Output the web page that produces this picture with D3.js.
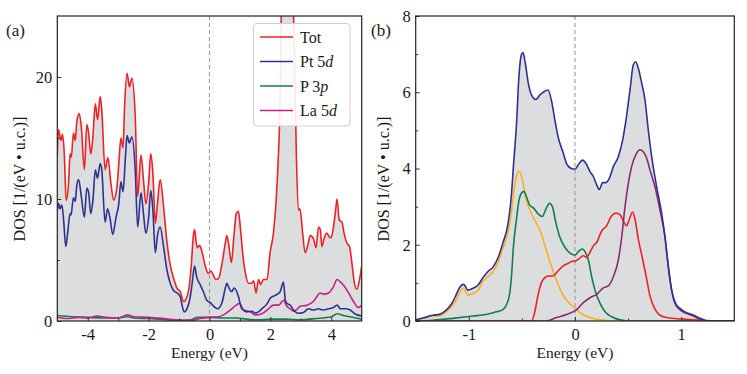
<!DOCTYPE html>
<html>
<head>
<meta charset="utf-8">
<script src="https://d3js.org/d3.v7.min.js"></script>
<style>
  body { margin: 0; background: #fff; }
</style>
</head>
<body>
<div id="chart"></div>
<script>
// ---- panel (a) data: [energy (eV), DOS]
const totA = [[-5.0,13.6],[-4.96,15.7],[-4.88,14.8],[-4.83,15.3],[-4.77,13.7],[-4.71,9.9],[-4.63,11.3],[-4.58,13.7],[-4.54,13.4],[-4.47,15.4],[-4.41,14.8],[-4.36,16.3],[-4.28,17.0],[-4.21,15.9],[-4.11,12.4],[-4.03,16.1],[-3.97,15.4],[-3.9,13.7],[-3.84,14.8],[-3.75,17.8],[-3.68,16.5],[-3.59,18.4],[-3.54,17.3],[-3.43,12.4],[-3.34,13.4],[-3.24,11.3],[-3.15,9.9],[-3.04,11.0],[-2.98,12.9],[-2.91,15.0],[-2.84,14.2],[-2.79,17.6],[-2.71,20.3],[-2.63,19.2],[-2.55,19.9],[-2.44,16.8],[-2.36,10.2],[-2.25,13.6],[-2.17,11.6],[-2.09,9.6],[-2.0,11.3],[-1.93,13.7],[-1.86,12.1],[-1.78,8.0],[-1.71,9.6],[-1.62,11.6],[-1.51,9.4],[-1.4,6.5],[-1.29,4.6],[-1.18,3.5],[-1.07,2.7],[-0.96,2.4],[-0.85,1.6],[-0.77,1.8],[-0.68,2.6],[-0.6,4.5],[-0.53,7.0],[-0.49,7.5],[-0.44,6.5],[-0.4,6.0],[-0.33,6.2],[-0.26,5.8],[-0.14,4.5],[-0.04,3.9],[0.05,4.1],[0.12,3.8],[0.2,3.4],[0.3,3.5],[0.41,4.7],[0.52,6.4],[0.57,7.0],[0.64,6.1],[0.72,4.8],[0.8,6.9],[0.88,8.8],[0.95,9.0],[1.0,8.0],[1.1,5.3],[1.18,3.9],[1.28,3.1],[1.39,3.1],[1.45,3.3],[1.53,2.3],[1.61,3.4],[1.68,3.0],[1.77,3.4],[1.89,3.4],[1.99,5.6],[2.1,7.2],[2.19,9.9],[2.27,14.0],[2.32,18.1],[2.36,26],[2.45,32],[2.6,34],[2.72,30],[2.77,24],[2.8,20.9],[2.85,14.0],[2.92,9.1],[2.97,9.2],[3.06,7.2],[3.14,5.6],[3.22,6.1],[3.31,7.0],[3.42,6.7],[3.5,6.0],[3.58,7.7],[3.64,7.5],[3.69,6.1],[3.77,6.8],[3.85,7.2],[3.97,6.8],[4.04,7.2],[4.13,8.8],[4.19,10.0],[4.26,8.3],[4.35,8.1],[4.42,7.2],[4.51,6.4],[4.6,6.1],[4.68,4.7],[4.76,3.1],[4.84,2.6],[4.93,3.4],[5.0,4.5]];

const pt5dA = [[-5.0,9.0],[-4.96,9.65],[-4.91,9.2],[-4.85,9.5],[-4.8,8.5],[-4.72,6.1],[-4.66,7.2],[-4.58,8.8],[-4.55,8.7],[-4.47,10.1],[-4.41,9.8],[-4.36,11.1],[-4.3,11.6],[-4.21,10.2],[-4.11,8.5],[-4.03,10.9],[-3.97,10.5],[-3.9,8.8],[-3.83,9.9],[-3.75,12.4],[-3.68,11.7],[-3.59,12.9],[-3.54,12.4],[-3.43,8.1],[-3.35,9.2],[-3.26,8.3],[-3.18,7.1],[-3.07,8.5],[-2.98,9.6],[-2.91,11.4],[-2.84,10.6],[-2.76,13.5],[-2.71,15.2],[-2.63,14.6],[-2.55,15.1],[-2.44,12.4],[-2.36,7.7],[-2.25,10.5],[-2.17,8.8],[-2.09,7.2],[-2.0,8.5],[-1.93,10.7],[-1.86,9.1],[-1.78,5.6],[-1.71,7.0],[-1.62,7.7],[-1.51,6.1],[-1.4,4.2],[-1.29,3.1],[-1.18,2.5],[-1.07,2.3],[-0.96,2.0],[-0.91,1.4],[-0.83,0.75],[-0.74,1.0],[-0.63,2.0],[-0.56,3.3],[-0.49,4.5],[-0.42,3.6],[-0.31,3.0],[-0.2,2.4],[-0.09,1.7],[0.03,1.5],[0.14,1.2],[0.26,1.0],[0.41,1.5],[0.52,2.7],[0.57,3.1],[0.64,2.7],[0.73,2.4],[0.81,2.7],[0.88,2.5],[0.95,2.0],[1.06,1.0],[1.23,0.75],[1.39,0.8],[1.5,0.65],[1.61,0.75],[1.72,1.0],[1.89,1.4],[1.99,1.85],[2.16,2.1],[2.32,2.4],[2.43,3.2],[2.49,1.7],[2.54,1.45],[2.65,1.3],[2.76,0.9],[2.92,0.63],[3.09,0.7],[3.25,1.0],[3.41,0.9],[3.58,1.0],[3.74,0.9],[3.91,1.0],[4.07,1.1],[4.19,1.3],[4.3,1.0],[4.46,1.0],[4.62,0.9],[4.79,0.57],[5.0,0.4]];

const p3pA = [[-5.0,0.45],[-4.5,0.35],[-4.0,0.3],[-3.5,0.25],[-3.0,0.25],[-2.7,0.35],[-2.5,0.25],[-2.0,0.2],[-1.5,0.12],[-1.0,0.05],[-0.6,0.1],[-0.4,0.3],[0.0,0.3],[0.4,0.25],[0.9,0.25],[1.2,0.15],[1.6,0.1],[2.0,0.15],[2.5,0.15],[3.0,0.1],[3.5,0.2],[4.0,0.35],[4.2,0.6],[4.4,0.45],[4.7,0.3],[5.0,0.15]];

const la5dA = [[-5.0,0.3],[-4.7,0.2],[-4.3,0.3],[-4.0,0.25],[-3.7,0.4],[-3.4,0.3],[-3.0,0.25],[-2.7,0.5],[-2.5,0.35],[-2.0,0.3],[-1.5,0.2],[-1.0,0.08],[-0.6,0.05],[-0.3,0.2],[0.0,0.3],[0.3,0.35],[0.46,0.5],[0.68,0.9],[0.88,1.3],[0.99,1.45],[1.12,0.9],[1.34,0.75],[1.5,0.5],[1.72,0.6],[1.94,1.0],[2.1,1.3],[2.27,1.3],[2.43,1.7],[2.54,1.2],[2.65,1.0],[2.76,0.8],[2.87,0.95],[2.98,1.2],[3.2,1.3],[3.41,1.6],[3.53,2.0],[3.63,2.3],[3.74,2.2],[3.91,2.3],[4.07,2.8],[4.19,3.4],[4.3,3.2],[4.41,2.9],[4.57,2.3],[4.73,1.6],[4.89,1.1],[5.0,1.3]];

// ---- panel (b) data
const totB = [[-1.5,0.03],[-1.43,0.08],[-1.34,0.15],[-1.27,0.18],[-1.21,0.29],[-1.16,0.46],[-1.12,0.68],[-1.09,0.86],[-1.05,0.96],[-1.03,0.9],[-1.01,0.81],[-0.96,0.86],[-0.91,0.95],[-0.87,1.12],[-0.82,1.3],[-0.77,1.42],[-0.72,1.69],[-0.68,2.04],[-0.63,2.56],[-0.6,3.26],[-0.58,4.05],[-0.55,5.2],[-0.53,6.32],[-0.505,6.98],[-0.49,7.04],[-0.47,6.8],[-0.44,6.24],[-0.41,5.93],[-0.37,5.81],[-0.33,5.93],[-0.29,6.02],[-0.254,6.06],[-0.22,5.76],[-0.19,5.28],[-0.16,4.84],[-0.11,4.4],[-0.075,4.1],[-0.035,4.0],[0.0,3.98],[0.031,4.1],[0.072,4.22],[0.104,4.13],[0.141,3.92],[0.173,3.79],[0.204,3.57],[0.229,3.45],[0.26,3.63],[0.29,3.63],[0.323,3.74],[0.361,4.05],[0.408,4.31],[0.449,4.75],[0.48,5.27],[0.518,6.06],[0.549,6.72],[0.571,6.8],[0.596,6.63],[0.628,6.24],[0.659,5.8],[0.69,5.01],[0.722,4.31],[0.769,3.52],[0.816,2.82],[0.847,2.21],[0.879,1.42],[0.91,0.81],[0.941,0.5],[0.989,0.33],[1.05,0.22],[1.114,0.16],[1.177,0.07],[1.24,0.01],[1.33,0],[1.5,0]];

const orangeB = [[-1.5,0.02],[-1.43,0.07],[-1.34,0.13],[-1.27,0.14],[-1.21,0.25],[-1.16,0.38],[-1.12,0.55],[-1.09,0.72],[-1.05,0.86],[-1.03,0.77],[-1.01,0.68],[-0.96,0.72],[-0.91,0.81],[-0.87,1.03],[-0.82,1.16],[-0.77,1.3],[-0.72,1.56],[-0.68,1.9],[-0.63,2.34],[-0.6,2.83],[-0.57,3.52],[-0.543,3.87],[-0.52,3.92],[-0.496,3.7],[-0.458,3.17],[-0.41,2.82],[-0.36,2.55],[-0.317,2.29],[-0.27,1.85],[-0.22,1.42],[-0.175,1.07],[-0.128,0.76],[-0.08,0.55],[-0.035,0.42],[0.013,0.3],[0.05,0.21],[0.14,0.09],[0.24,0.03],[0.35,0],[1.5,0]];

const greenB = [[-1.5,0],[-1.34,0.02],[-1.15,0.07],[-0.96,0.13],[-0.84,0.17],[-0.74,0.24],[-0.68,0.3],[-0.64,0.46],[-0.615,0.72],[-0.596,1.25],[-0.58,1.94],[-0.552,2.65],[-0.527,3.17],[-0.505,3.35],[-0.48,3.4],[-0.458,3.26],[-0.427,3.04],[-0.39,2.96],[-0.35,2.82],[-0.308,2.74],[-0.27,2.96],[-0.24,3.09],[-0.213,3.0],[-0.182,2.6],[-0.144,2.21],[-0.097,1.94],[-0.05,1.79],[0.0,1.73],[0.031,1.82],[0.069,1.89],[0.1,1.79],[0.126,1.6],[0.157,1.16],[0.188,0.81],[0.236,0.46],[0.283,0.24],[0.345,0.11],[0.424,0.03],[0.5,0],[1.5,0]];

const redB = [[-1.5,0],[-0.41,0],[-0.38,0.22],[-0.35,0.66],[-0.317,1.0],[-0.286,1.13],[-0.254,1.18],[-0.207,1.18],[-0.16,1.31],[-0.113,1.44],[-0.066,1.51],[-0.019,1.57],[0.0,1.57],[0.031,1.62],[0.078,1.71],[0.11,1.67],[0.141,1.8],[0.173,1.97],[0.204,2.06],[0.251,2.36],[0.298,2.5],[0.345,2.76],[0.386,2.83],[0.424,2.79],[0.455,2.62],[0.486,2.5],[0.512,2.67],[0.543,2.86],[0.565,2.67],[0.596,2.15],[0.637,1.62],[0.675,1.1],[0.706,0.66],[0.753,0.31],[0.8,0.15],[0.863,0.09],[0.957,0.06],[1.08,0.04],[1.24,0],[1.5,0]];

const purpleB = [[-1.5,0],[-0.27,0],[-0.175,0.09],[-0.08,0.17],[0.016,0.3],[0.078,0.48],[0.141,0.61],[0.204,0.7],[0.267,0.87],[0.314,0.92],[0.361,1.16],[0.408,1.6],[0.44,2.21],[0.471,3.0],[0.502,3.61],[0.533,4.05],[0.571,4.35],[0.612,4.49],[0.643,4.44],[0.675,4.27],[0.706,3.96],[0.753,3.52],[0.8,2.91],[0.847,2.21],[0.879,1.42],[0.91,0.81],[0.941,0.46],[0.989,0.29],[1.05,0.2],[1.114,0.13],[1.177,0.04],[1.24,0],[1.5,0]];

const legendLabels = [["Tot", ""], ["Pt 5", "d"], ["P 3", "p"], ["La 5", "d"]];

const C = { red: "#ec2227", navy: "#2e3192", green: "#137d4c", magenta: "#c6208a", orange: "#fbb01f", purple: "#8c2a6c", fill: "#dcdddf" };
const SERIF = "'Liberation Serif', 'Times New Roman', Times, serif";

const W = 747, H = 374;
const svg = d3.select("#chart").append("svg").attr("width", W).attr("height", H)
  .attr("font-family", SERIF);

function panel(opt) {
  const x = d3.scaleLinear().domain(opt.xd).range([opt.left, opt.right]);
  const y = d3.scaleLinear().domain(opt.yd).range([opt.bottom, opt.top]);
  const g = svg.append("g");
  const clipId = "clip-" + opt.name;
  svg.append("clipPath").attr("id", clipId).append("rect")
    .attr("x", opt.left).attr("y", opt.top)
    .attr("width", opt.right - opt.left).attr("height", opt.bottom - opt.top);
  const plot = g.append("g").attr("clip-path", `url(#${clipId})`);

  const area = d3.area().x(d => x(d[0])).y0(y(0)).y1(d => y(d[1])).curve(d3.curveMonotoneX);
  const line = d3.line().x(d => x(d[0])).y(d => y(d[1])).curve(d3.curveMonotoneX);

  plot.append("path").datum(opt.fill).attr("d", area).attr("fill", C.fill);
  plot.append("line").attr("x1", x(0)).attr("x2", x(0)).attr("y1", opt.top).attr("y2", opt.bottom)
    .attr("stroke", "#9a9a9a").attr("stroke-width", 1.1).attr("stroke-dasharray", "4,3");
  opt.series.forEach(s => {
    plot.append("path").datum(s.data).attr("d", line).attr("fill", "none")
      .attr("stroke", s.color).attr("stroke-width", 1.6);
  });

  // axes with inward ticks
  const xAx = g.append("g").attr("transform", `translate(0,${opt.bottom})`)
    .call(d3.axisBottom(x).tickValues(opt.xmaj).tickSize(-4).tickPadding(7).tickFormat(d3.format("d")));
  g.append("g").attr("transform", `translate(0,${opt.bottom})`)
    .call(d3.axisBottom(x).tickValues(opt.xmin).tickSize(-2.5).tickFormat(""));
  g.append("g").attr("transform", `translate(${opt.left},0)`)
    .call(d3.axisLeft(y).tickValues(opt.ymaj).tickSize(-4).tickPadding(5).tickFormat(d3.format("d")));
  g.append("g").attr("transform", `translate(${opt.left},0)`)
    .call(d3.axisLeft(y).tickValues(opt.ymin).tickSize(-2.5).tickFormat(""));
  g.selectAll(".domain").remove();
  g.selectAll("g").attr("font-family", SERIF);
  g.selectAll(".tick line").attr("stroke", "#333");
  g.selectAll(".tick text").attr("font-size", 16.5).attr("fill", "#1a1a1a");
  xAx.selectAll("text").text(d => d < 0 ? "-" + Math.abs(d) : d);

  g.append("rect").attr("x", opt.left).attr("y", opt.top)
    .attr("width", opt.right - opt.left).attr("height", opt.bottom - opt.top)
    .attr("fill", "none").attr("stroke", "#222").attr("stroke-width", 1.2);

  g.append("text").attr("x", (opt.left + opt.right) / 2).attr("y", 358)
    .attr("text-anchor", "middle").attr("font-size", 15.5).attr("fill", "#1a1a1a").text("Energy (eV)");
  g.append("text").attr("transform", `translate(${opt.ylabX},179) rotate(-90)`)
    .attr("text-anchor", "middle").attr("dy", "0.35em").attr("font-size", 16).attr("fill", "#1a1a1a")
    .text("DOS [1/(eV • u.c.)]");
  g.append("text").attr("x", opt.tagX).attr("y", 36).attr("font-size", 17).attr("fill", "#1a1a1a").text(opt.tag);
  return { x, y, g };
}

panel({
  name: "a", tag: "(a)", tagX: 6, ylabX: 19,
  left: 57.3, right: 361.7, top: 16, bottom: 321,
  xd: [-5, 5], yd: [0, 25],
  xmaj: [-4, -2, 0, 2, 4], xmin: [-3, -1, 1, 3],
  ymaj: [0, 10, 20], ymin: [5, 15],
  fill: totA,
  series: [
    { data: p3pA, color: C.green },
    { data: la5dA, color: C.magenta },
    { data: pt5dA, color: C.navy },
    { data: totA, color: C.red }
  ]
});

panel({
  name: "b", tag: "(b)", tagX: 371, ylabX: 383,
  left: 415.7, right: 734.3, top: 16, bottom: 321,
  xd: [-1.5, 1.5], yd: [0, 8],
  xmaj: [-1, 0, 1], xmin: [-0.5, 0.5],
  ymaj: [0, 2, 4, 6, 8], ymin: [1, 3, 5, 7],
  fill: totB,
  series: [
    { data: orangeB, color: C.orange },
    { data: greenB, color: C.green },
    { data: redB, color: C.red },
    { data: purpleB, color: C.purple },
    { data: totB, color: C.navy }
  ]
});

// legend for panel (a)
const legColors = [C.red, C.navy, C.green, C.magenta];
const leg = svg.append("g");
leg.append("rect").attr("x", 253.5).attr("y", 23.5).attr("width", 96.5).attr("height", 102.5)
  .attr("rx", 3).attr("fill", "#fff").attr("fill-opacity", 0.9).attr("stroke", "#cfcfcf");
legendLabels.forEach((lab, i) => {
  const yy = 37 + i * 24.5;
  leg.append("line").attr("x1", 260).attr("x2", 293).attr("y1", yy).attr("y2", yy)
    .attr("stroke", legColors[i]).attr("stroke-width", 1.6);
  const t = leg.append("text").attr("x", 300).attr("y", yy).attr("dy", "0.35em")
    .attr("font-size", 16).attr("fill", "#1a1a1a");
  t.append("tspan").text(lab[0]);
  if (lab[1]) t.append("tspan").attr("font-style", "italic").text(lab[1]);
});
</script>
</body>
</html>
